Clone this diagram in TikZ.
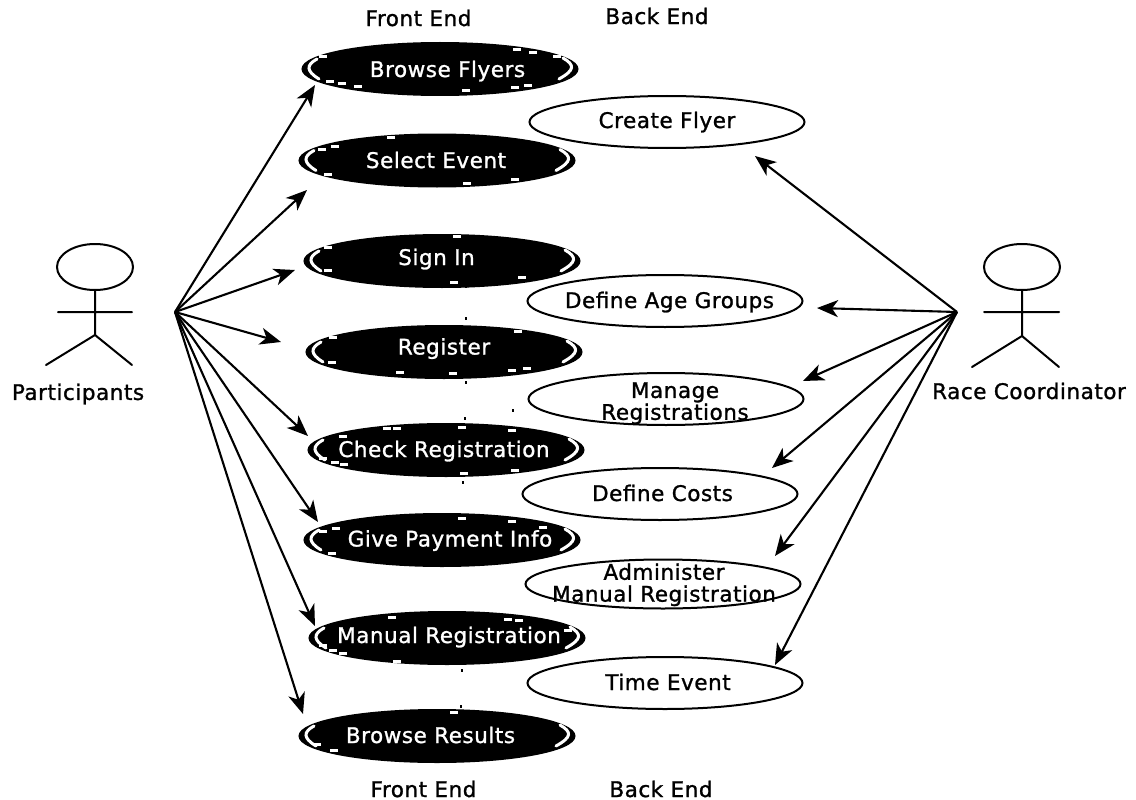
\documentclass[tikz,border=0pt]{standalone}
\usepackage{fontspec}
\setmainfont[LetterSpace=2.5,FakeBold=1.2]{DejaVu Sans}
\usetikzlibrary{arrows.meta,calc,shapes.geometric}
\renewcommand{\arraystretch}{0.9}
\tikzset{
  x=1pt,y=-1pt,
  lbl/.style={font=\fontsize{21.5}{20.5}\selectfont,inner sep=0pt,align=center},
  usecase/.style={ellipse,minimum width=275pt,minimum height=52pt,inner sep=0pt,line width=2pt,lbl},
  front/.style={usecase,draw=black,fill=black,text=white},
  back/.style={usecase,draw=black,fill=white,text=black},
  link/.style={line width=2.1pt,-{Stealth[length=21pt,width=17pt,inset=6pt]}},
  actorline/.style={line width=2pt,line cap=round},
  nick/.style={white,line width=3pt,line cap=butt},
  sidearc/.style={white,line width=3pt,line cap=round}
}
\newcommand{\nicks}[1]{\foreach \nx/\ny in {#1}{\draw[nick] (\nx-4,\ny) -- (\nx+4,\ny);}}
\newcommand{\specks}[1]{\foreach \nx/\ny in {#1}{\fill[black] (\nx-1,\ny-1.5) rectangle (\nx+1,\ny+1.5);}}
% label that does not widen its ellipse: #1 = x offset, #2 = baseline drop
\newcommand{\clab}[3]{\raisebox{-#2pt}[0pt][0pt]{\makebox[0pt][c]{\hspace*{#1pt}\hspace*{#1pt}#3}}}
\begin{document}
\begin{tikzpicture}
\useasboundingbox (0,0) rectangle (1136,800);
% headings
\node[lbl] (fe1) at (418.5,18) {Front End};
\node[lbl] (be1) at (657,16) {Back End};
\node[lbl] (fe2) at (423.5,789) {Front End};
\node[lbl] (be2) at (661,789) {Back End};
% front end use cases
\node[front] (browse) at (440,69) {\clab{7.5}{8}{Browse Flyers}};
\node[front] (select) at (437,160.5) {\clab{-1}{7.5}{Select Event}};
\node[front] (signin) at (442,261) {\clab{-5.5}{4}{Sign In}};
\node[front] (register) at (444,352) {\clab{0}{2.5}{Register}};
\node[front] (check) at (446,450) {\clab{-2}{7}{Check Registration}};
\node[front] (pay) at (442,540) {\clab{8}{6.5}{Give Payment Info}};
\node[front] (manual) at (447,638) {\clab{2}{5}{Manual Registration}};
\node[front] (results) at (437,736) {\clab{-6.5}{7}{Browse Results}};
\foreach \n in {browse,select,signin,register,check,pay,manual,results}{
  \draw[sidearc] ($(\n)+(-123,-10)$) .. controls ($(\n)+(-134,-4)$) and ($(\n)+(-134,2)$) .. ($(\n)+(-121,10)$);
  \draw[sidearc] ($(\n)+(123,-11)$) .. controls ($(\n)+(135,-4)$) and ($(\n)+(135,1)$) .. ($(\n)+(119,10)$);
}
\nicks{323/57,330/82,342/84,358/87,466/91,515/88,528/86,517/50,533/53,557/57}
\nicks{391/137,335/146,322/149,328/174,467/183,515/179}
\nicks{457/236,328/247,328/270,454/282,522/277}
\nicks{333/337,518/331,332/362,400/372,453/373,512/370,527/368}
\nicks{387/428,397/428,462/427,512/430,343/436,323/458,335/462,344/464,464/473,515/470}
\nicks{462/518,512/521,336/528,543/527,323/531,332/553}
\nicks{392/617,508/619,519/620,568/630,323/645,333/650,343/653,397/661}
\nicks{454/712,317/744,334/750}
\specks{466/286,466/318,466/382,513/410,465/418,463/482,462/670,461/706}
% back end use cases
\node[back] (flyer) at (667,122) {\clab{0}{6}{Create Flyer}};
\node[back] (age) at (665,301) {\clab{4.5}{7}{Define Age Groups}};
\node[back] (manage) at (666,399) {\clab{9}{10}{\begin{tabular}{@{}c@{}}Manage\\Registrations\end{tabular}}};
\node[back] (costs) at (660,494) {\clab{2.5}{7}{Define Costs}};
\node[back,minimum height=49pt] (admin) at (663,584) {\clab{1}{6.5}{\begin{tabular}{@{}c@{}}Administer\\Manual Registration\end{tabular}}};
\node[back] (time) at (665,683) {\clab{3}{7}{Time Event}};
% actors
\node[ellipse,draw,line width=2pt,minimum width=76pt,minimum height=46pt,inner sep=0pt] (phead) at (95,267) {};
\coordinate (pneck) at (95,335);
\coordinate (parml) at (58,312);
\coordinate (parmr) at (132,312);
\coordinate (plegl) at (46,365);
\coordinate (plegr) at (132,365);
\draw[actorline] (phead.south) -- (pneck) (parml) -- (parmr) (plegl) -- (pneck) -- (plegr);
\node[lbl] (plabel) at (78,394) {Participants};
\node[ellipse,draw,line width=2pt,minimum width=76pt,minimum height=46pt,inner sep=0pt] (rhead) at (1022,267) {};
\coordinate (rneck) at (1022,336);
\coordinate (rarml) at (984,312);
\coordinate (rarmr) at (1059,312);
\coordinate (rlegl) at (972,367);
\coordinate (rlegr) at (1059,367);
\draw[actorline] (rhead.south) -- (rneck) (rarml) -- (rarmr) (rlegl) -- (rneck) -- (rlegr);
\node[lbl] (rlabel) at (1029,391) {Race Coordinator};
% connectors
\coordinate (phub) at (175,312);
\coordinate (rhub) at (957,312);
\coordinate (a1) at (315,85);
\coordinate (a2) at (307,190);
\coordinate (a3) at (295,270);
\coordinate (a4) at (281,342);
\coordinate (a5) at (308,436);
\coordinate (a6) at (318,522);
\coordinate (a7) at (315,626);
\coordinate (a8) at (303,714);
\foreach \e in {a1,a2,a3,a4,a5,a6,a7,a8}{\draw[link] (phub) -- (\e);}
\coordinate (b1) at (755,156);
\coordinate (b2) at (817,308);
\coordinate (b3) at (803,381);
\coordinate (b4) at (772,468);
\coordinate (b5) at (775,556);
\coordinate (b6) at (775,665);
\foreach \e in {b1,b2,b3,b4,b5,b6}{\draw[link] (rhub) -- (\e);}
\end{tikzpicture}
\end{document}
